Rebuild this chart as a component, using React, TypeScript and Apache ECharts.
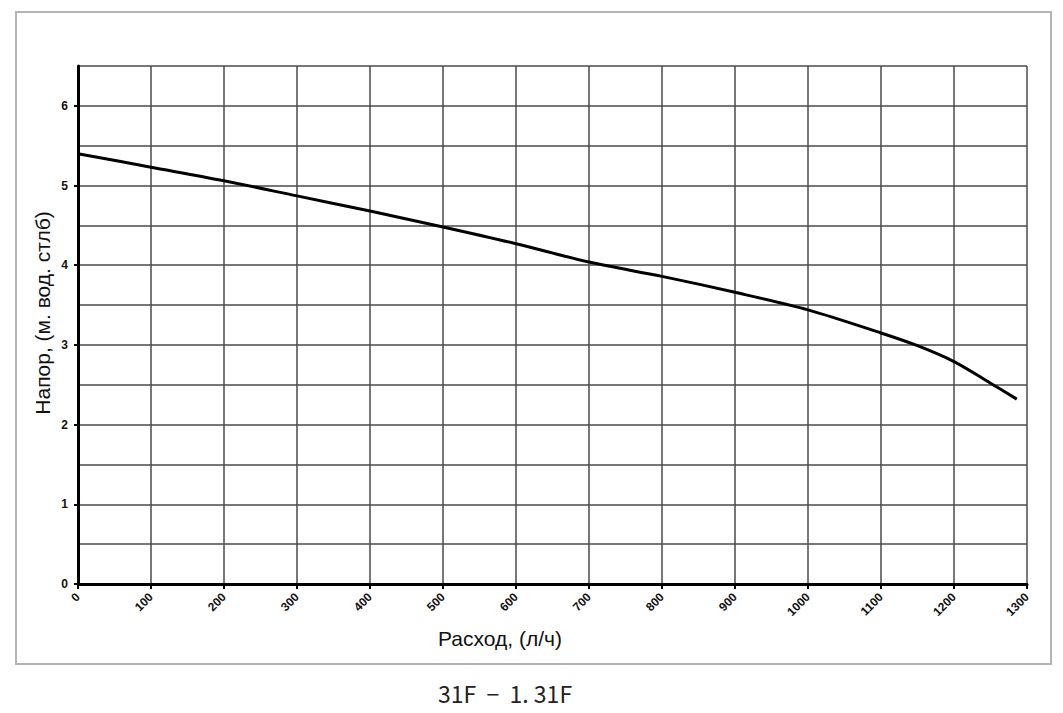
import React, { useEffect, useRef } from "react";
import * as echarts from "echarts";

const flow = [0, 100, 200, 300, 400, 500, 600, 700, 800, 900, 1000, 1100, 1150, 1200, 1250, 1286];
const head = [5.4, 5.23, 5.06, 4.87, 4.68, 4.48, 4.27, 4.04, 3.86, 3.66, 3.44, 3.15, 2.99, 2.79, 2.52, 2.32];
const yTickValues = [0, 1, 2, 3, 4, 5, 6];
const xLabel = "Расход, (л/ч)";
const yLabel = "Напор, (м. вод. стлб)";
const caption = "31F  −  1. 31F";

export default function App() {
  const ref = useRef<HTMLDivElement>(null);
  useEffect(() => {
    document.body.style.margin = "0";
    const chart = echarts.init(ref.current!, null, { renderer: "svg" });
    const nameFont = '21px "Liberation Sans", Arial, sans-serif';
    chart.setOption({
      animation: false,
      backgroundColor: "#ffffff",
      grid: { left: 78, right: 36, top: 66, bottom: 129, containLabel: false },
      graphic: [
        {
          type: "rect",
          shape: { x: 16, y: 12, width: 1035, height: 652 },
          style: { fill: "none", stroke: "#b4b4b4", lineWidth: 2 },
          z: -1,
        },
        {
          type: "text",
          x: 500,
          y: 638,
          style: { text: xLabel, fill: "#111", font: nameFont, align: "center", verticalAlign: "middle" },
        },
        {
          type: "text",
          x: 42,
          y: 313,
          rotation: Math.PI / 2,
          style: { text: yLabel, fill: "#111", font: nameFont, align: "center", verticalAlign: "middle" },
        },
        {
          type: "text",
          x: 505,
          y: 693,
          style: {
            text: caption,
            fill: "#222",
            font: '23px "Noto Sans CJK SC", "Noto Sans", sans-serif',
            align: "center",
            verticalAlign: "middle",
          },
        },
      ],
      xAxis: {
        type: "value",
        min: 0,
        max: 1300,
        interval: 100,
        axisLine: { show: true, onZero: false, lineStyle: { color: "#000", width: 3 } },
        axisTick: { show: true, length: 5, lineStyle: { color: "#000", width: 2 } },
        axisLabel: {
          rotate: 45,
          margin: 11,
          formatter: (v: number) => String(v),
          fontFamily: "Liberation Sans, Arial",
          fontWeight: "bold",
          fontSize: 12,
          color: "#111",
        },
        splitLine: { show: true, lineStyle: { color: "#4a4a4a", width: 1.5 } },
      },
      yAxis: [
        {
          type: "value",
          min: 0,
          max: 6.5,
          interval: 0.5,
          axisLine: { show: true, onZero: false, lineStyle: { color: "#000", width: 3 } },
          axisTick: { show: false },
          axisLabel: {
            margin: 10,
            formatter: (v: number) => (Number.isInteger(v) ? String(v) : ""),
            fontFamily: "Liberation Sans, Arial",
            fontWeight: "bold",
            fontSize: 12,
            color: "#111",
          },
          splitLine: { show: true, lineStyle: { color: "#4a4a4a", width: 1.5 } },
        },
        {
          type: "value",
          position: "left",
          min: 0,
          max: 6.5,
          interval: 1,
          axisLine: { show: false },
          axisTick: { show: true, length: 4, customValues: yTickValues, lineStyle: { color: "#000", width: 2 } },
          axisLabel: { show: false },
          splitLine: { show: false },
        },
      ],
      series: [
        {
          type: "line",
          data: flow.map((x, i) => [x, head[i]]),
          showSymbol: false,
          smooth: 0.3,
          lineStyle: { color: "#000", width: 3 },
        },
      ],
    });
    return () => chart.dispose();
  }, []);
  return <div ref={ref} style={{ width: 1063, height: 713 }} />;
}
